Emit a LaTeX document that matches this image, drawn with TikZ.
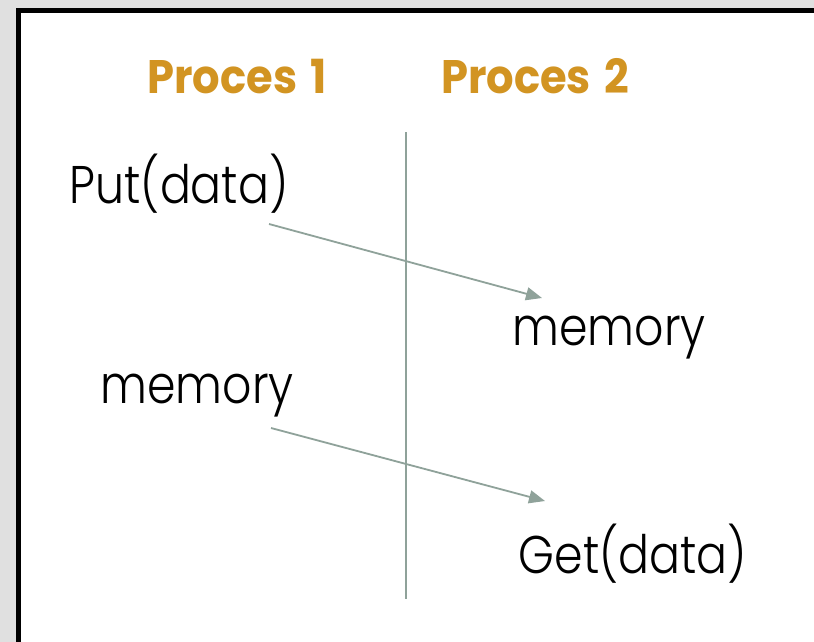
\documentclass[tikz,border=0pt]{standalone}
\usepackage{fontspec}
\setmainfont{Poppins}
\newfontfamily\labelfont[FakeStretch=0.865]{Poppins Light}
\newfontfamily\titlefont[FakeStretch=0.92]{Poppins Bold}
\usetikzlibrary{arrows.meta}
\definecolor{gold}{RGB}{210,148,34}
\definecolor{linegray}{RGB}{143,162,154}
\definecolor{bggray}{RGB}{224,224,224}
\begin{document}
\begin{tikzpicture}[x=1pt,y=-1pt,
  title/.style={font=\titlefont\fontsize{47}{50}\selectfont, text=gold, anchor=base, inner sep=0pt},
  label/.style={font=\labelfont\fontsize{53}{56}\selectfont, text=black, anchor=base, inner sep=0pt},
  msg/.style={draw=linegray, line width=1.8pt, -{Triangle[length=16pt,width=13pt]}},
  lifeline/.style={draw=linegray, line width=2pt}]
\useasboundingbox (0,0) rectangle (814,642);
\clip (0,0) rectangle (814,642);
\fill[bggray] (0,0) rectangle (814,642);
\draw[line width=5pt, fill=white] (18.5,10.5) rectangle (840,670);
\node[title] (p1) at (237,93) {Proces\hspace{4pt} 1};
\node[title] (p2) at (535,93) {Proces\hspace{4pt} 2};
\coordinate (ltop) at (406,132);
\coordinate (lbot) at (406,599);
\draw[lifeline] (ltop) -- (lbot);
\node[label] (put) at (179,203) {Put(data)};
\node[label] (memR) at (609,345) {memory};
\node[label] (memL) at (197,403) {memory};
\node[label] (get) at (633,573) {Get(data)};
\coordinate (a1s) at (269,224);
\coordinate (a1e) at (542,298);
\coordinate (a2s) at (271,428);
\coordinate (a2e) at (545,501);
\draw[msg] (a1s) -- (a1e);
\draw[msg] (a2s) -- (a2e);
\end{tikzpicture}
\end{document}
